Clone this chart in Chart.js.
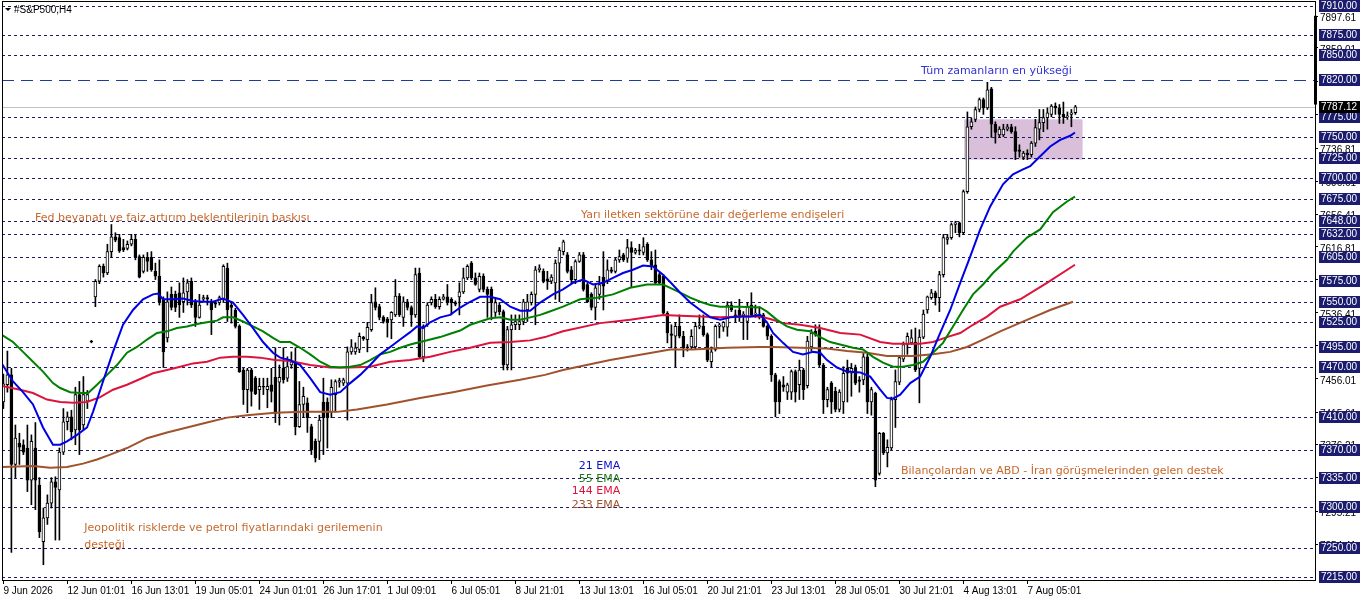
<!DOCTYPE html>
<html>
<head>
<meta charset="utf-8">
<script src="https://cdn.jsdelivr.net/npm/chart.js@4.4.1/dist/chart.umd.min.js"></script>
<style>
  html, body { margin: 0; padding: 0; background: #fff; }
</style>
</head>
<body>
<canvas id="chart" width="1362" height="603"></canvas>
<script>
// 4H candles, bar 0 = 9 Jun 2026
var opens = [7428,7449,7461,7352,7378,7376,7372,7333,7372,7327,7258,7287,7305,7331,7321,7367,7404,7410,7394,7437,7400,7429,7502,7556,7575,7593,7585,7611,7629,7628,
  7616,7615,7620,7626,7605,7587,7604,7604,7587,7581,7553,7506,7559,7559,7561,7550,7562,7575,7550,7531,7553,7555,7550,7549,7549,7553,7591,7546,7540,7520,
  7467,7443,7467,7457,7443,7447,7443,7449,7458,7452,7469,7457,7473,7477,7398,7425,7427,7398,7380,7380,7428,7428,7416,7437,7452,7451,7451,7489,7489,7492,
  7507,7504,7516,7550,7544,7531,7529,7528,7534,7557,7531,7550,7543,7534,7585,7483,7522,7549,7553,7544,7553,7556,7553,7549,7556,7562,7579,7597,7579,7565,
  7581,7565,7565,7537,7546,7538,7473,7516,7522,7522,7526,7540,7549,7559,7589,7587,7578,7575,7573,7597,7611,7607,7589,7577,7599,7607,7571,7559,7543,7559,
  7580,7575,7589,7587,7601,7607,7603,7616,7610,7613,7610,7620,7601,7595,7583,7581,7536,7511,7508,7520,7508,7495,7495,7495,7519,7520,7510,7477,7492,7520,
  7519,7519,7546,7534,7540,7533,7526,7546,7535,7531,7534,7520,7508,7461,7453,7449,7440,7440,7465,7449,7467,7448,7495,7514,7516,7473,7431,7451,7441,7419,
  7428,7469,7463,7469,7455,7455,7483,7428,7439,7341,7390,7366,7372,7431,7452,7480,7498,7500,7501,7469,7507,7540,7555,7561,7555,7583,7626,7628,7644,7646,
  7634,7684,7763,7772,7784,7796,7786,7809,7766,7753,7753,7760,7763,7757,7735,7726,7731,7729,7743,7760,7768,7774,7778,7788,7786,7778,7775,7778,7780];
var highs = [7462,7490,7469,7400,7390,7382,7400,7388,7403,7336,7299,7315,7336,7337,7372,7420,7416,7418,7446,7453,7459,7442,7503,7577,7595,7596,7620,7644,7634,7632,
  7626,7624,7632,7632,7607,7607,7610,7611,7597,7601,7556,7562,7568,7563,7573,7579,7577,7579,7553,7559,7558,7558,7553,7551,7557,7595,7597,7550,7542,7522,
  7469,7469,7469,7459,7457,7457,7457,7469,7494,7473,7494,7483,7489,7494,7453,7446,7433,7401,7383,7412,7457,7433,7455,7455,7457,7457,7495,7504,7500,7512,
  7508,7525,7559,7567,7547,7533,7531,7538,7577,7560,7556,7553,7545,7591,7591,7522,7549,7556,7559,7556,7559,7571,7555,7551,7573,7591,7595,7599,7585,7585,
  7584,7568,7568,7553,7549,7540,7520,7534,7534,7534,7553,7559,7562,7593,7595,7590,7587,7583,7601,7616,7625,7610,7593,7601,7610,7610,7573,7561,7571,7581,
  7611,7601,7592,7603,7613,7609,7626,7623,7615,7620,7628,7622,7611,7613,7585,7583,7538,7522,7525,7534,7514,7498,7516,7525,7534,7534,7512,7495,7522,7524,
  7526,7550,7550,7540,7553,7538,7549,7561,7546,7544,7536,7522,7510,7463,7455,7459,7451,7467,7467,7479,7469,7508,7516,7522,7522,7475,7446,7453,7446,7443,
  7471,7479,7475,7473,7459,7487,7486,7446,7440,7391,7391,7382,7434,7467,7483,7501,7512,7516,7518,7516,7540,7557,7565,7563,7587,7632,7632,7646,7648,7647,
  7686,7781,7774,7787,7798,7798,7817,7811,7769,7763,7766,7766,7766,7763,7741,7733,7735,7745,7772,7784,7784,7786,7790,7792,7790,7793,7781,7784,7789];
var lows = [7420,7440,7245,7336,7352,7364,7319,7303,7297,7263,7230,7279,7299,7260,7260,7364,7394,7382,7376,7364,7394,7420,7500,7544,7572,7580,7583,7604,7623,7610,
  7611,7613,7618,7601,7579,7585,7587,7587,7577,7546,7470,7501,7540,7538,7531,7537,7546,7543,7520,7530,7550,7546,7510,7543,7546,7549,7526,7524,7518,7464,
  7425,7415,7423,7437,7419,7437,7421,7428,7403,7400,7451,7453,7469,7388,7397,7409,7391,7364,7355,7358,7364,7372,7409,7416,7446,7448,7406,7486,7486,7488,
  7503,7489,7514,7540,7528,7524,7507,7505,7532,7532,7520,7540,7520,7531,7481,7477,7520,7546,7542,7541,7552,7546,7534,7545,7534,7560,7577,7577,7570,7562,
  7562,7531,7528,7532,7534,7467,7467,7467,7516,7516,7522,7526,7546,7522,7586,7573,7565,7572,7553,7550,7607,7585,7572,7572,7598,7563,7549,7540,7528,7553,
  7540,7572,7585,7585,7598,7599,7598,7568,7608,7607,7607,7599,7589,7571,7571,7534,7500,7494,7471,7506,7483,7490,7492,7492,7517,7508,7477,7471,7490,7506,
  7514,7508,7538,7525,7526,7504,7504,7532,7531,7529,7519,7504,7453,7410,7414,7441,7431,7431,7428,7431,7431,7445,7490,7508,7471,7414,7422,7414,7416,7416,
  7414,7428,7435,7449,7440,7449,7414,7412,7325,7339,7364,7349,7370,7397,7449,7477,7486,7498,7465,7427,7505,7536,7553,7546,7538,7580,7620,7626,7634,7629,
  7632,7682,7760,7769,7781,7778,7784,7750,7743,7750,7751,7758,7755,7723,7726,7723,7723,7726,7739,7747,7757,7760,7775,7778,7767,7767,7772,7763,7778];
var closes = [7450,7461,7352,7384,7373,7367,7333,7380,7333,7270,7287,7305,7331,7324,7367,7404,7410,7392,7437,7394,7437,7437,7501,7575,7593,7585,7611,7629,7625,7612,
  7613,7620,7626,7604,7580,7604,7599,7589,7581,7550,7489,7550,7543,7543,7546,7561,7573,7546,7531,7546,7555,7553,7540,7547,7555,7593,7540,7543,7520,7465,
  7443,7467,7441,7438,7447,7446,7447,7441,7414,7458,7455,7471,7477,7398,7425,7435,7409,7370,7360,7406,7409,7409,7446,7453,7454,7455,7489,7495,7494,7508,
  7505,7519,7549,7543,7531,7526,7525,7537,7557,7534,7550,7543,7534,7583,7483,7520,7546,7553,7544,7553,7556,7549,7549,7547,7562,7579,7593,7579,7571,7581,
  7565,7559,7549,7549,7538,7473,7516,7522,7526,7526,7550,7550,7559,7589,7591,7575,7575,7580,7597,7613,7623,7587,7577,7599,7607,7565,7550,7543,7567,7571,
  7569,7589,7587,7601,7605,7601,7616,7610,7613,7612,7617,7601,7593,7573,7573,7536,7512,7509,7520,7508,7494,7494,7508,7520,7521,7510,7479,7489,7520,7522,
  7525,7546,7540,7532,7531,7535,7544,7534,7536,7534,7520,7508,7461,7428,7428,7446,7449,7465,7440,7467,7443,7502,7512,7511,7473,7431,7443,7428,7419,7440,
  7463,7463,7469,7451,7453,7483,7428,7443,7333,7390,7366,7373,7431,7453,7482,7498,7508,7506,7467,7507,7535,7556,7561,7555,7583,7628,7628,7644,7646,7634,
  7684,7763,7769,7784,7796,7786,7808,7766,7756,7760,7760,7763,7757,7733,7733,7731,7729,7743,7762,7768,7774,7780,7788,7786,7778,7775,7776,7780,7787.12];

// moving averages as [bar, price]
var ema21 = [[-0.8,7478],[2.4,7453],[4.9,7440],[7.4,7425],[9.9,7397],[12.4,7376],[14.2,7376],[15.9,7380],[18.4,7388],[20.9,7397],[22.4,7416],[24.9,7453],
  [27.4,7489],[29.9,7522],[32.4,7540],[34.9,7553],[37.4,7559],[38.7,7560],[39.9,7553],[42.4,7553],[44.9,7554],[47.4,7551],[49.9,7550],[52.4,7550],[54.9,7554],
  [57.4,7549],[59.9,7534],[62.4,7518],[64.9,7501],[67.4,7488],[69.2,7482],[71.7,7479],[74.2,7473],[76.7,7457],[79.2,7440],[81.7,7437],[84.2,7440],[86.7,7451],
  [89.2,7461],[91.7,7473],[94.2,7486],[96.7,7495],[99.2,7504],[101.7,7513],[103.4,7520],[104.9,7518],[106.7,7525],[109.2,7531],[111.7,7534],[114.2,7543],
  [116.7,7550],[119.2,7556],[121.7,7556],[124.2,7553],[126.7,7544],[129.2,7539],[131.7,7539],[134.2,7549],[137.4,7559],[139.9,7565],[142.4,7573],[144.9,7577],
  [147.4,7571],[149.9,7573],[152.4,7579],[154.9,7585],[157.4,7589],[159.9,7594],[162.4,7593],[164.9,7583],[166.7,7574],[169.2,7561],[171.7,7549],[174.2,7540],
  [176.7,7531],[179.2,7528],[181.7,7531],[184.2,7532],[186.7,7532],[189.2,7534],[190.9,7525],[192.4,7512],[194.9,7500],[197.4,7489],[199.9,7486],[202.4,7489],
  [204.2,7488],[205.9,7479],[208.4,7470],[210.9,7465],[214.2,7464],[216.7,7459],[219.2,7443],[220.9,7433],[222.4,7432],[224.2,7437],[226.7,7451],[229.2,7459],
  [231.7,7483],[234.2,7512],[236.7,7540],[239.2,7573],[241.7,7605],[244.2,7638],[246.7,7666],[249.9,7693],[252.4,7705],[254.9,7711],[256.7,7715],[259.2,7727],
  [261.7,7739],[264.2,7747],[266.7,7752],[267.9,7756]];
var ema55 = [[-0.8,7511],[2.4,7501],[4.9,7489],[7.4,7477],[9.9,7465],[12.4,7451],[14.2,7445],[16.7,7440],[19.2,7439],[21.2,7439],[23.4,7449],[25.9,7461],
  [28.4,7473],[30.9,7488],[33.4,7495],[35.9,7504],[38.4,7512],[40.9,7514],[43.4,7518],[45.9,7520],[48.4,7523],[50.9,7525],[53.4,7527],[54.9,7531],[57.4,7531],
  [59.9,7526],[62.4,7520],[64.9,7514],[67.4,7506],[69.2,7501],[71.7,7501],[74.2,7494],[76.7,7486],[79.2,7477],[81.7,7471],[84.2,7470],[86.7,7471],[89.2,7473],
  [91.7,7479],[94.2,7486],[96.7,7489],[99.2,7494],[101.7,7498],[104.2,7501],[106.7,7504],[109.2,7507],[111.7,7511],[114.2,7515],[116.7,7522],[119.2,7526],
  [121.7,7530],[124.2,7531],[126.7,7528],[129.2,7528],[131.7,7531],[134.2,7534],[135.9,7537],[139.9,7544],[144.2,7553],[148.4,7555],[152.4,7559],[156.7,7567],
  [160.9,7571],[164.9,7571],[166.7,7567],[169.2,7561],[171.7,7555],[174.2,7550],[176.7,7546],[179.2,7544],[184.2,7544],[189.2,7543],[190.9,7538],[193.4,7528],
  [195.9,7520],[198.4,7516],[201.7,7514],[204.2,7507],[206.7,7501],[209.2,7498],[212.4,7494],[214.9,7492],[217.4,7483],[219.9,7476],[222.4,7471],[224.9,7471],
  [227.4,7473],[229.9,7477],[232.4,7488],[234.9,7500],[237.4,7520],[239.9,7540],[242.4,7559],[244.9,7571],[247.4,7585],[250.9,7601],[252.4,7611],[255.9,7628],
  [259.2,7638],[262.4,7659],[265.9,7672],[267.9,7678]];
var ema144 = [[-0.8,7448],[4.2,7443],[7.4,7439],[10.9,7431],[14.2,7428],[17.4,7427],[20.9,7428],[24.2,7434],[27.4,7443],[30.9,7449],[34.2,7456],[37.4,7463],
  [40.9,7467],[44.2,7471],[47.4,7475],[50.9,7477],[54.2,7482],[57.4,7483],[60.9,7483],[64.2,7482],[67.9,7479],[71.7,7478],[76.7,7473],[81.7,7470],[86.7,7470],
  [91.7,7471],[96.7,7477],[101.7,7479],[106.7,7483],[111.7,7489],[116.7,7494],[121.7,7500],[126.7,7501],[131.7,7503],[135.4,7507],[139.9,7514],[149.2,7524],
  [156.7,7528],[164.9,7534],[169.2,7533],[174.2,7532],[179.2,7531],[184.2,7532],[189.2,7532],[191.7,7529],[194.9,7524],[199.2,7522],[204.2,7518],[209.2,7512],
  [214.2,7510],[219.2,7501],[222.4,7499],[225.9,7499],[229.2,7499],[232.4,7501],[235.9,7507],[239.2,7512],[242.4,7522],[245.9,7532],[249.2,7544],[254.2,7553],
  [260.9,7573],[267.9,7595]];
var ema233 = [[-0.8,7349],[7.4,7350],[11.7,7348],[15.9,7349],[19.9,7353],[23.4,7358],[26.7,7364],[30.9,7372],[35.9,7384],[40.9,7391],[45.9,7397],[50.9,7403],
  [55.9,7409],[60.9,7412],[67.9,7415],[74.9,7416],[83.4,7416],[88.4,7419],[95.9,7425],[104.2,7433],[112.4,7440],[120.9,7448],[129.2,7455],[135.4,7461],
  [139.9,7467],[151.7,7479],[166.7,7492],[172.4,7492],[180.9,7494],[189.2,7495],[192.4,7495],[199.2,7494],[205.9,7493],[210.9,7490],[215.9,7488],[220.9,7484],
  [227.4,7484],[232.4,7486],[236.7,7489],[240.9,7495],[244.9,7504],[249.2,7514],[255.9,7528],[261.7,7540],[267.4,7550]];

// time axis labels every 16 bars
var tickBars = [0,16,32,48,64,80,96,112,128,144,160,176,192,208,224,240,256];
var timeLabels = ['9 Jun 2026','12 Jun 01:01','16 Jun 13:01','19 Jun 05:01','24 Jun 01:01','26 Jun 17:01','1 Jul 09:01','6 Jul 05:01',
  '8 Jul 21:01','13 Jul 13:01','16 Jul 05:01','20 Jul 21:01','23 Jul 13:01','28 Jul 05:01','30 Jul 21:01','4 Aug 13:01','7 Aug 05:01'];

// price scale labels and drawn horizontal levels
var scaleTicks = [7897.61,7859.01,7818.21,7777.41,7736.81,7696.61,7656.41,7616.81,7577.21,7536.41,7496.21,7456.01,7415.61,7376.21,7335.61,7295.21,7254.41];
var levels = [7910,7875,7850,7820,7775,7750,7725,7700,7675,7648,7632,7605,7575,7550,7525,7495,7470,7410,7370,7335,7300,7250,7215];
var athLevel = 7820;
var lastPrice = 7787.12;
var zoneBars = [240.2, 269.8];
var zonePrices = [7772, 7723];

var notes = [
  { text: 'Fed beyanatı ve faiz artırım beklentilerinin baskısı', bar: 7.9, price: 7652, color: '#c8692e', align: 'left' },
  { text: 'Yarı iletken sektörüne dair değerleme endişeleri', bar: 144.4, price: 7656, color: '#c8692e', align: 'left' },
  { text: 'Tüm zamanların en yükseği', bar: 229.4, price: 7831, color: '#3232d2', align: 'left' },
  { text: 'Bilançolardan ve ABD - İran görüşmelerinden gelen destek', bar: 224.4, price: 7344, color: '#c8692e', align: 'left' },
  { text: 'Jeopolitik risklerde ve petrol fiyatlarındaki gerilemenin', bar: 20.2, price: 7275, color: '#c8692e', align: 'left' },
  { text: 'desteği', bar: 20.2, price: 7254, color: '#c8692e', align: 'left' },
  { text: '21 EMA', bar: 154.2, price: 7350, color: '#1010c8', align: 'right' },
  { text: '55 EMA', bar: 154.2, price: 7334, color: '#1f7a1f', align: 'right' },
  { text: '144 EMA', bar: 154.2, price: 7319, color: '#dc143c', align: 'right' },
  { text: '233 EMA', bar: 154.2, price: 7302, color: '#a0522d', align: 'right' }
];

function buildCandles() {
  var wicks = [], bodies = [];
  for (var i = 0; i < closes.length; i++) {
    wicks.push({ x: i, y: [lows[i], highs[i]] });
    bodies.push({ x: i, y: [opens[i], closes[i]] });
  }
  return [wicks, bodies];
}

function toPoints(arr) {
  return arr.map(function (p) { return { x: p[0], y: p[1] }; });
}

var levelPlugin = {
  id: 'levels',
  beforeDatasetsDraw: function (chart) {
    var ctx = chart.ctx, a = chart.chartArea, xs = chart.scales.x, ys = chart.scales.y;
    ctx.save();
    var zx1 = xs.getPixelForValue(zoneBars[0]), zx2 = xs.getPixelForValue(zoneBars[1]);
    var zy1 = ys.getPixelForValue(zonePrices[0]), zy2 = ys.getPixelForValue(zonePrices[1]);
    ctx.fillStyle = '#d9bfd9';
    ctx.fillRect(zx1, zy1, zx2 - zx1, zy2 - zy1);

    ctx.lineWidth = 1;
    var py = Math.round(ys.getPixelForValue(lastPrice)) + 0.5;
    ctx.strokeStyle = '#c0c0c0';
    ctx.beginPath(); ctx.moveTo(a.left, py); ctx.lineTo(a.right, py); ctx.stroke();

    levels.forEach(function (lv) {
      var y = Math.round(ys.getPixelForValue(lv)) + 0.5;
      if (lv === athLevel) {
        ctx.setLineDash([12, 7]);
        ctx.strokeStyle = '#1f3c99';
      } else {
        ctx.setLineDash([3, 3]);
        ctx.strokeStyle = '#1b1b6b';
      }
      ctx.beginPath(); ctx.moveTo(a.left, y); ctx.lineTo(a.right, y); ctx.stroke();
    });
    ctx.restore();
  },
  afterDraw: function (chart) {
    var ctx = chart.ctx, a = chart.chartArea, xs = chart.scales.x, ys = chart.scales.y;
    ctx.save();
    // frame
    ctx.strokeStyle = '#000';
    ctx.lineWidth = 1;
    ctx.strokeRect(a.left + 0.5, a.top + 0.5, a.right - a.left, a.bottom - a.top);

    // notes
    ctx.font = '11px "DejaVu Sans"';
    ctx.textBaseline = 'middle';
    notes.forEach(function (n) {
      ctx.fillStyle = n.color;
      ctx.textAlign = n.align;
      ctx.fillText(n.text, xs.getPixelForValue(n.bar), ys.getPixelForValue(n.price));
    });

    // title
    ctx.fillStyle = '#000';
    ctx.beginPath();
    ctx.moveTo(5, 8); ctx.lineTo(11, 8); ctx.lineTo(8, 11); ctx.closePath(); ctx.fill();
    ctx.font = '10px "Liberation Sans"';
    ctx.textAlign = 'left';
    ctx.fillText('#S&P500,H4', 14, 10);

    // spread bar on the price axis
    ctx.fillRect(a.right - 1, ys.getPixelForValue(7898), 3, ys.getPixelForValue(7790) - ys.getPixelForValue(7898));

    // level price boxes
    ctx.font = '10px "Liberation Sans"';
    levels.forEach(function (lv) {
      var y = Math.round(ys.getPixelForValue(lv));
      ctx.fillStyle = '#1c1c6e';
      ctx.fillRect(a.right + 4, y - 6, 41, 12);
      ctx.fillStyle = '#fff';
      ctx.fillText(lv.toFixed(2), a.right + 6, y + 0.5);
    });
    var py = Math.round(ys.getPixelForValue(lastPrice));
    ctx.fillStyle = '#000';
    ctx.fillRect(a.right + 4, py - 6, 41, 12);
    ctx.fillStyle = '#fff';
    ctx.fillText(lastPrice.toFixed(2), a.right + 6, py + 0.5);
    ctx.restore();
  }
};

function Charts() {
  var ctx = document.getElementById('chart').getContext('2d');
  var candles = buildCandles();

  var lineDs = function (label, pts, color) {
    return {
      type: 'line', label: label, data: toPoints(pts), borderColor: color, borderWidth: 2,
      pointRadius: 0, tension: 0, order: 0
    };
  };

  new Chart(ctx, {
    type: 'bar',
    data: {
      datasets: [
        {
          label: 'wick', data: candles[0], backgroundColor: '#000', borderWidth: 0,
          barThickness: 1, grouped: false, order: 2
        },
        {
          label: 'body', data: candles[1],
          backgroundColor: function (c) { return closes[c.dataIndex] >= opens[c.dataIndex] ? '#fff' : '#000'; },
          borderColor: '#000', borderWidth: 1, borderSkipped: false,
          barThickness: 3, minBarLength: 1, grouped: false, order: 1
        },
        lineDs('21 EMA', ema21, '#0000e6'),
        lineDs('55 EMA', ema55, '#008000'),
        lineDs('144 EMA', ema144, '#dc143c'),
        lineDs('233 EMA', ema233, '#a0522d')
      ]
    },
    options: {
      responsive: false,
      animation: false,
      layout: { padding: { left: 2, top: 1, right: 0, bottom: 0 } },
      plugins: { legend: { display: false }, tooltip: { enabled: false } },
      scales: {
        x: {
          type: 'linear', min: -0.35, max: 327.9, offset: false,
          grid: { display: true, drawOnChartArea: false, drawTicks: true, tickLength: 4, color: '#000', offset: false },
          border: { display: true, color: '#000' },
          afterBuildTicks: function (s) { s.ticks = tickBars.map(function (v) { return { value: v }; }); },
          afterFit: function (s) { s.height = 23; s.paddingLeft = 0; s.paddingRight = 0; },
          ticks: {
            autoSkip: false, maxRotation: 0, minRotation: 0, align: 'start', padding: 1,
            color: '#000', font: { family: 'Liberation Sans', size: 10 },
            callback: function (v, i) { return timeLabels[i]; }
          }
        },
        y: {
          type: 'linear', position: 'right', min: 7211.4, max: 7916,
          grid: { display: true, drawOnChartArea: false, drawTicks: true, tickLength: 3, color: '#000' },
          border: { display: true, color: '#000' },
          afterBuildTicks: function (s) { s.ticks = scaleTicks.map(function (v) { return { value: v }; }); },
          afterFit: function (s) { s.width = 47; s.paddingTop = 0; s.paddingBottom = 0; },
          ticks: {
            padding: 2, labelOffset: 2, color: '#000', font: { family: 'Liberation Sans', size: 10 },
            callback: function (v) { return v.toFixed(2); }
          }
        }
      }
    },
    plugins: [levelPlugin]
  });
}

Charts();
</script>
</body>
</html>
